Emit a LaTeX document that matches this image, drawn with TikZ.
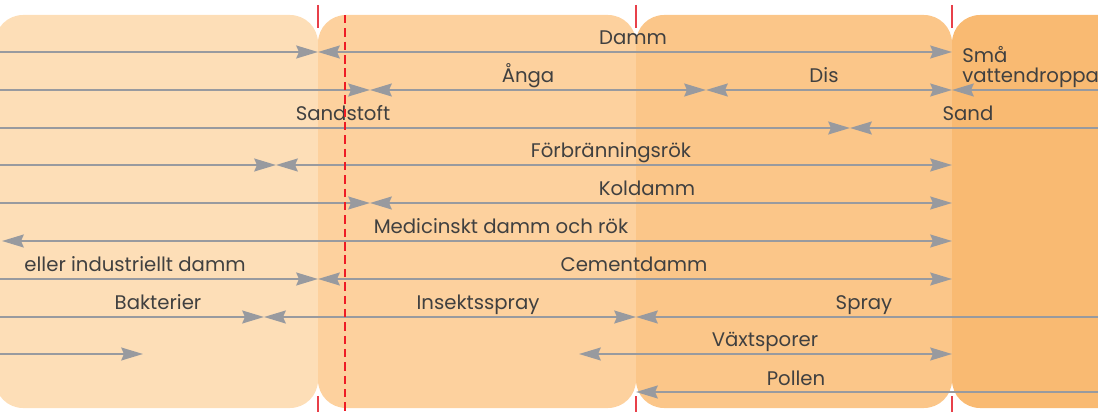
\documentclass[tikz,border=0pt]{standalone}
\usepackage{fontspec}
\setmainfont{Poppins}
\usepackage{xcolor}
\usepackage{tikz}
\usetikzlibrary{arrows.meta}

\definecolor{zoneA}{HTML}{FDDEB7}
\definecolor{zoneB}{HTML}{FDD19E}
\definecolor{zoneC}{HTML}{FBC689}
\definecolor{zoneD}{HTML}{F9BA72}
\definecolor{flowgray}{HTML}{989A9F}
\definecolor{txtgray}{HTML}{404040}
\definecolor{markred}{HTML}{E8404A}
\definecolor{limitred}{HTML}{EE1C25}

\begin{document}
\begin{tikzpicture}[x=0.025cm, y=-0.025cm,
    zone/.style={rounded corners=0.7cm},
    flow/.style={draw=flowgray, line width=1.45pt,
        >={Stealth[length=15.5pt, width=9.2pt, inset=2pt]}},
    lbl/.style={text=txtgray, font=\fontsize{14}{17}\selectfont, inner sep=0pt, anchor=base},
    tickmark/.style={draw=markred, line width=0.8pt},
    limit/.style={draw=limitred, line width=2pt, dash pattern=on 6pt off 3.5pt}]
    \clip (0,0) rectangle (1098,412);

    % Size zones
    \fill[zoneA, zone] (-5,15) rectangle (318,408);
    \fill[zoneB, zone] (318,15) rectangle (636,408);
    \fill[zoneC, zone] (636,15) rectangle (952,408);
    \fill[zoneD, zone] (952,15) rectangle (1140,408);

    % Zone marks
    \foreach \x in {318,636,952} {
        \draw[tickmark] (\x,5) -- (\x,28);
        \draw[tickmark] (\x,396) -- (\x,412);
    }

    % Row 1
    \draw[flow, ->] (-5,52) -- (318,52);
    \draw[flow, <->] (318,52) -- (952,52);
    \node[lbl] (damm) at (633,45) {Damm};

    % Row 2
    \draw[flow, ->] (-5,90) -- (370,90);
    \draw[flow, <->] (370,90) -- (706,90);
    \draw[flow, <->] (706,90) -- (952,90);
    \draw[flow, <-] (952,90) -- (1110,90);
    \node[lbl] (anga) at (528,83) {Ånga};
    \node[lbl] (dis) at (824,83) {Dis};
    \node[lbl, anchor=base west] (sma) at (962,63) {Små};
    \node[lbl, anchor=base west] (vatten) at (962,83) {vattendroppar};

    % Row 3
    \draw[flow, ->] (-5,128) -- (850,128);
    \draw[flow, <-] (850,128) -- (1110,128);
    \node[lbl] (sandstoft) at (343,121) {Sandstoft};
    \node[lbl] (sand) at (968,121) {Sand};

    % Row 4
    \draw[flow, ->] (-5,165) -- (276,165);
    \draw[flow, <->] (276,165) -- (952,165);
    \node[lbl] (rok) at (611,158) {Förbränningsrök};

    % Row 5
    \draw[flow, ->] (-5,203) -- (370,203);
    \draw[flow, <->] (370,203) -- (952,203);
    \node[lbl] (kol) at (647,196) {Koldamm};

    % Row 6
    \draw[flow, <->] (2,241) -- (952,241);
    \node[lbl] (medicin) at (501,234) {Medicinskt damm och rök};

    % Row 7
    \draw[flow, ->] (-5,279) -- (318,279);
    \draw[flow, <->] (318,279) -- (952,279);
    \node[lbl] (industri) at (135,272) {eller industriellt damm};
    \node[lbl] (cement) at (634,272) {Cementdamm};

    % Row 8
    \draw[flow, ->] (-5,317) -- (264,317);
    \draw[flow, <->] (264,317) -- (636,317);
    \draw[flow, <-] (636,317) -- (1110,317);
    \node[lbl] (bakterier) at (158,310) {Bakterier};
    \node[lbl] (insekt) at (478,310) {Insektsspray};
    \node[lbl] (spray) at (864,310) {Spray};

    % Row 9
    \draw[flow, ->] (-5,354) -- (143,354);
    \draw[flow, <->] (579,354) -- (952,354);
    \node[lbl] (sporer) at (765,347) {Växtsporer};

    % Row 10
    \draw[flow, <-] (636,392) -- (1110,392);
    \node[lbl] (pollen) at (796,385) {Pollen};

    % Limit line
    \draw[limit] (345,15) -- (345,412);
\end{tikzpicture}
\end{document}
